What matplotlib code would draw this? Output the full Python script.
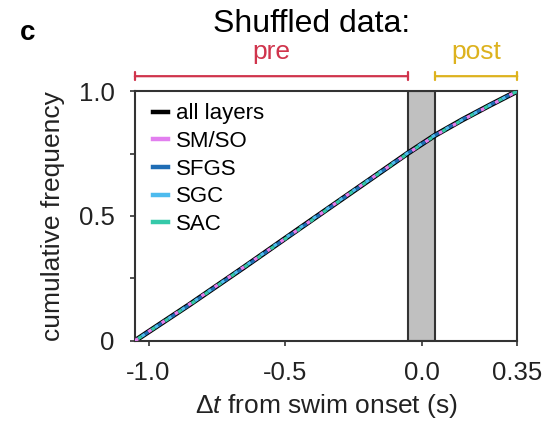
import numpy as np
import matplotlib
matplotlib.use("Agg")
import matplotlib.pyplot as plt

plt.rcParams['font.family'] = ['Liberation Sans', 'DejaVu Sans']
plt.rcParams['mathtext.fontset'] = 'custom'
plt.rcParams['mathtext.rm'] = 'Liberation Sans'
plt.rcParams['mathtext.it'] = 'Liberation Sans:italic'

# Данные (кумулятивная частота, перемешанные данные)
dt = [-1.05, -0.85, -0.65, -0.45, -0.25, -0.05, 0.05, 0.15, 0.25, 0.35]
all_layers = [0.0, 0.145, 0.295, 0.448, 0.6, 0.752, 0.824, 0.886, 0.944, 1.0]
sm_so = [0.0, 0.146, 0.296, 0.447, 0.601, 0.751, 0.823, 0.885, 0.943, 1.0]
sfgs = [0.0, 0.144, 0.294, 0.447, 0.599, 0.752, 0.824, 0.887, 0.945, 1.0]
sgc = [0.0, 0.145, 0.296, 0.449, 0.601, 0.753, 0.825, 0.886, 0.944, 1.0]
sac = [0.0, 0.144, 0.295, 0.446, 0.6, 0.751, 0.823, 0.885, 0.944, 1.0]

labels = ['all layers', 'SM/SO', 'SFGS', 'SGC', 'SAC']
colors = ['black', '#E27FEF', '#1F6DB5', '#4DBBEE', '#35C9A9']
pre_win = (-1.05, -0.05)
post_win = (0.05, 0.35)

fig = plt.figure(figsize=(5.55, 4.26), dpi=100)
ax = fig.add_axes([0.243, 0.2, 0.689, 0.586])

ax.axvspan(-0.05, 0.05, facecolor='#C0C0C0', edgecolor='#333333', lw=1.5, zorder=1)

series = [all_layers, sm_so, sfgs, sgc, sac]
for i, (ys, lab, c) in enumerate(zip(series, labels, colors)):
    if i == 0:
        ax.plot(dt, ys, color=c, lw=3.8, zorder=2)
    else:
        ax.plot(dt, ys, color=c, lw=2.4, zorder=3,
                linestyle=((i - 1) * 1.2, (1.2, 3.6)))
    ax.plot([], [], color=c, lw=3.2, label=lab)

ax.set_xlim(-1.05, 0.35)
ax.set_ylim(0, 1)
ax.set_xticks([-1.0, -0.5, 0.0, 0.35])
ax.set_xticklabels(['-1.0', '-0.5', '0.0', '0.35'])
ax.set_yticks([0, 0.25, 0.5, 0.75, 1.0])
ax.set_yticklabels(['0', '', '0.5', '', '1.0'])
ax.tick_params(labelsize=18.5, length=3.5, width=1.2, color='#333333', labelcolor='#222222', pad=11)
for s in ax.spines.values():
    s.set_color('#333333')
    s.set_linewidth(1.5)

ax.set_ylabel('cumulative frequency', fontsize=19, color='#222222', labelpad=10)
ax.set_xlabel(r'$\Delta\mathit{t}$ from swim onset (s)', fontsize=19, color='#222222', labelpad=5)

ax.legend(loc='upper left', frameon=False, fontsize=16, handlelength=0.7,
          handletextpad=0.35, labelspacing=0.3, borderaxespad=0.15,
          bbox_to_anchor=(0.015, 1.0))

# скобки pre / post
for (x0, x1), c, txt in [(pre_win, '#D0344C', 'pre'), (post_win, '#DDB21E', 'post')]:
    ax.annotate('', xy=(x0, 1.06), xytext=(x1, 1.06), xycoords='data',
                arrowprops=dict(arrowstyle='|-|,widthA=0.3,widthB=0.3', color=c, lw=1.6,
                                shrinkA=0, shrinkB=0), annotation_clip=False)
    ax.text((x0 + x1) / 2, 1.155, txt, color=c, fontsize=19, ha='center', va='center',
            clip_on=False)

fig.text(0.561, 0.943, 'Shuffled data:', fontsize=23, ha='center', va='center')
fig.text(0.05, 0.922, 'c', fontsize=20, fontweight='bold', ha='center', va='center')

fig.savefig('out.png', dpi=100)
